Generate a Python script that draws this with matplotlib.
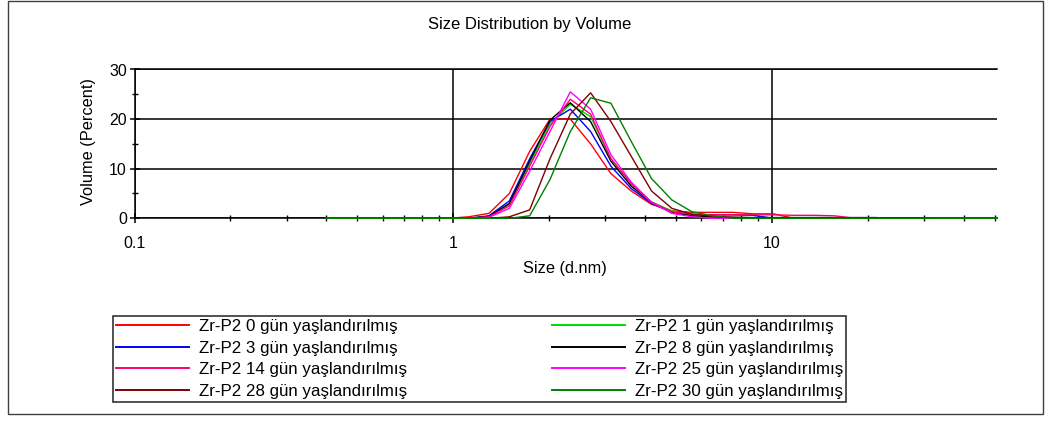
import matplotlib
matplotlib.use("Agg")
import matplotlib.pyplot as plt
from matplotlib.patches import Rectangle
from matplotlib.ticker import LogLocator, NullFormatter, FixedLocator

plt.rcParams['font.family'] = ['Liberation Sans', 'DejaVu Sans']

# size classes (d.nm)
sizes = [0.4, 0.4632, 0.5365, 0.6213, 0.7195, 0.8332, 0.9649, 1.117, 1.294,
         1.499, 1.736, 2.010, 2.328, 2.696, 3.122, 3.615, 4.187, 4.849, 5.615,
         6.503, 7.531, 8.721, 10.10, 11.70, 13.54, 15.69, 18.17, 21.04, 24.36,
         28.21, 32.67, 37.84, 43.82, 50.75]

lead = [0.0] * 7

vol_0 = lead + [0.3, 1.0, 5.0, 13.5, 20.0, 20.0, 15.0, 9.0, 5.5, 2.8, 1.5, 1.2,
                1.2, 1.2, 0.9, 0.9, 0.0, 0.0, 0.0, 0.0, 0.0, 0.0, 0.0, 0.0, 0.0, 0.0, 0.0]
vol_1 = lead + [0.0, 0.3, 2.8, 11.0, 19.0, 23.0, 20.5, 12.0, 7.0, 3.3, 1.5, 0.5,
                0.2, 0.0, 0.0, 0.0, 0.0, 0.0, 0.0, 0.0, 0.0, 0.0, 0.0, 0.0, 0.0, 0.0, 0.0]
vol_3 = lead + [0.0, 0.5, 3.5, 12.0, 19.5, 22.0, 17.5, 10.5, 6.0, 3.0, 1.2, 0.8,
                0.7, 0.7, 0.6, 0.0, 0.0, 0.0, 0.0, 0.0, 0.0, 0.0, 0.0, 0.0, 0.0, 0.0, 0.0]
vol_8 = lead + [0.0, 0.4, 3.0, 11.5, 19.8, 23.3, 19.5, 11.5, 6.5, 3.2, 1.2, 0.5,
                0.3, 0.2, 0.15, 0.15, 0.15, 0.15, 0.15, 0.15, 0.15, 0.0, 0.0, 0.0, 0.0, 0.0, 0.0]
vol_14 = lead + [0.0, 0.3, 2.5, 10.5, 18.5, 24.0, 21.0, 12.0, 7.0, 3.2, 1.3, 0.8,
                 0.7, 0.7, 0.7, 0.7, 0.6, 0.6, 0.5, 0.0, 0.0, 0.0, 0.0, 0.0, 0.0, 0.0, 0.0]
vol_25 = lead + [0.0, 0.2, 2.0, 9.5, 17.5, 25.5, 22.0, 12.8, 7.3, 3.2, 1.0, 0.3,
                 0.0, 0.0, 0.0, 0.0, 0.0, 0.0, 0.0, 0.0, 0.0, 0.0, 0.0, 0.0, 0.0, 0.0, 0.0]
vol_28 = lead + [0.0, 0.0, 0.3, 1.7, 12.0, 21.0, 25.3, 19.5, 12.5, 5.5, 2.0, 0.8,
                 0.4, 0.2, 0.1, 0.1, 0.1, 0.1, 0.1, 0.1, 0.1, 0.1, 0.1, 0.0, 0.0, 0.0, 0.0]
vol_30 = lead + [0.0, 0.0, 0.0, 0.5, 7.8, 17.5, 24.3, 23.2, 15.5, 8.0, 3.7, 1.3,
                 0.5, 0.0, 0.0, 0.0, 0.0, 0.0, 0.0, 0.0, 0.0, 0.0, 0.0, 0.0, 0.0, 0.0, 0.0]

labels = ["Zr-P2 0 gün yaşlandırılmış", "Zr-P2 1 gün yaşlandırılmış",
          "Zr-P2 3 gün yaşlandırılmış", "Zr-P2 8 gün yaşlandırılmış",
          "Zr-P2 14 gün yaşlandırılmış", "Zr-P2 25 gün yaşlandırılmış",
          "Zr-P2 28 gün yaşlandırılmış", "Zr-P2 30 gün yaşlandırılmış"]
series = [vol_0, vol_1, vol_3, vol_8, vol_14, vol_25, vol_28, vol_30]
colors = ["#FF0000", "#00DD00", "#0000FF", "#000000",
          "#FF0066", "#FF00FF", "#800000", "#008000"]

W, H = 1049, 423
fig = plt.figure(figsize=(W / 100, H / 100), dpi=100)
fig.patch.set_facecolor("white")

# outer frame
fig.patches.append(Rectangle((8 / W, 1 - 414 / H), (1043 - 8) / W, (414 - 1) / H,
                             transform=fig.transFigure, fill=False,
                             edgecolor="#404040", linewidth=1.0))

ax_l, ax_r, ax_t, ax_b = 134.5, 997, 69.5, 218.3
ax = fig.add_axes([ax_l / W, 1 - ax_b / H, (ax_r - ax_l) / W, (ax_b - ax_t) / H])

handles = []
for vals, lab, col in zip(series, labels, colors):
    h, = ax.plot(sizes, vals, color=col, linewidth=1.0, label=lab,
                 zorder=3, clip_on=False)
    handles.append(h)

ax.set_xscale("log")
ax.set_xlim(0.1, 50.75)
ax.set_ylim(0, 30)

ax.xaxis.set_major_locator(FixedLocator([0.1, 1, 10]))
ax.set_xticklabels(["0.1", "1", "10"])
ax.xaxis.set_minor_locator(LogLocator(base=10, subs=range(2, 10)))
ax.xaxis.set_minor_formatter(NullFormatter())
ax.set_yticks([0, 10, 20, 30])
ax.set_yticks([5, 15, 25], minor=True)

ax.grid(True, which="major", color="black", linewidth=1.1)
ax.spines["right"].set_visible(False)
for s in ["left", "bottom", "top"]:
    ax.spines[s].set_linewidth(1.1)
ax.tick_params(which="major", direction="inout", length=7, width=1.1,
               labelsize=11.5, color="black")
ax.tick_params(which="minor", direction="inout", length=5, width=1.0)
ax.tick_params(axis="x", which="major", pad=9)
ax.tick_params(axis="y", which="major", pad=2)
ax.tick_params(right=False, top=False, which="both")

fig.text(530 / W, 1 - 25 / H, "Size Distribution by Volume", ha="center",
         va="center", fontsize=12)
fig.text(565 / W, 1 - 268 / H, "Size (d.nm)", ha="center", va="center", fontsize=11.8)
fig.text(88 / W, 1 - 142 / H, "Volume (Percent)", ha="center", va="center",
         rotation=90, fontsize=11.8)

order = [0, 2, 4, 6, 1, 3, 5, 7]
leg = fig.legend([handles[i] for i in order], [labels[i] for i in order],
                 loc="upper left", bbox_to_anchor=(113 / W, 1 - 316 / H),
                 ncol=2, fontsize=12.2, frameon=True, fancybox=False,
                 edgecolor="black", handlelength=4.26, handletextpad=0.59,
                 columnspacing=8.6, labelspacing=0.38, borderpad=0.2,
                 borderaxespad=0)
leg.get_frame().set_linewidth(1.2)
for ln in leg.get_lines():
    ln.set_linewidth(1.4)

fig.savefig("out.png", dpi=100, facecolor="white")
